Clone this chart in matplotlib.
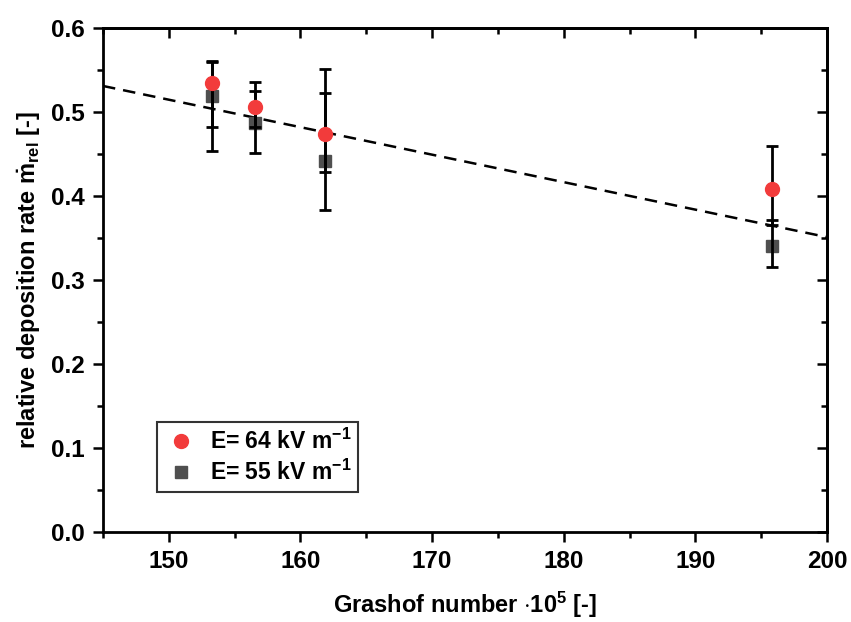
import matplotlib
matplotlib.use('Agg')
import matplotlib.pyplot as plt
import numpy as np
from matplotlib.ticker import MultipleLocator

plt.rcParams['font.family'] = ['Liberation Sans', 'DejaVu Sans']
plt.rcParams['font.weight'] = 'bold'
plt.rcParams['axes.labelweight'] = 'bold'
plt.rcParams['mathtext.fontset'] = 'custom'
plt.rcParams['mathtext.rm'] = 'Liberation Sans:bold'
plt.rcParams['mathtext.bf'] = 'Liberation Sans:bold'
plt.rcParams['mathtext.it'] = 'Liberation Sans:bold'
plt.rcParams['mathtext.default'] = 'rm'

# Grashof number (x 1e5)
gr = np.array([153.3, 156.55, 161.9, 195.8])

# E = 64 kV/m
m64 = np.array([0.535, 0.506, 0.474, 0.408])
m64_hi = np.array([0.561, 0.536, 0.523, 0.459])
m64_lo = np.array([0.482, 0.482, 0.429, 0.365])

# E = 55 kV/m
m55 = np.array([0.519, 0.487, 0.442, 0.340])
m55_hi = np.array([0.559, 0.525, 0.551, 0.372])
m55_lo = np.array([0.453, 0.451, 0.383, 0.315])

# linear trend line
fit_x = np.array([145, 200])
fit_y = np.array([0.531, 0.351])

red = '#F23B3B'
grey = '#4F4F4F'

fig = plt.figure(figsize=(8.51, 6.22), dpi=100)
ax = fig.add_axes([0.121, 0.1447, 0.851, 0.8103])

ax.plot(fit_x, fit_y, color='black', lw=1.8, ls=(0, (5, 3.2)), zorder=2)

ax.plot(gr, m55, 's', color=grey, ms=8, zorder=3,
        label=r'E= 55 kV m$^{-1}$')
ax.errorbar(gr, m55, yerr=[m55 - m55_lo, m55_hi - m55], fmt='none',
            ecolor='black', elinewidth=2, capsize=4.5, capthick=2, zorder=4)
ax.errorbar(gr, m64, yerr=[m64 - m64_lo, m64_hi - m64], fmt='none',
            ecolor='black', elinewidth=2, capsize=4.5, capthick=2, zorder=4)
ax.plot(gr, m64, 'o', color=red, ms=10, zorder=5,
        label=r'E= 64 kV m$^{-1}$')

ax.set_xlim(145, 200)
ax.set_ylim(0, 0.6)
ax.xaxis.set_major_locator(MultipleLocator(10))
ax.xaxis.set_minor_locator(MultipleLocator(5))
ax.yaxis.set_major_locator(MultipleLocator(0.1))
ax.yaxis.set_minor_locator(MultipleLocator(0.05))
ax.yaxis.set_major_formatter(matplotlib.ticker.FormatStrFormatter('%.1f'))

for s in ax.spines.values():
    s.set_linewidth(2)
ax.tick_params(which='both', direction='out', width=1.8, labelsize=17.5, pad=6)
ax.tick_params(which='major', length=7)
ax.tick_params(which='minor', length=4)
# mirrored ticks on top and right point inwards
axt = ax.secondary_xaxis('top')
axt.xaxis.set_major_locator(MultipleLocator(10))
axt.xaxis.set_minor_locator(MultipleLocator(5))
axt.tick_params(which='both', direction='in', width=1.8, labeltop=False)
axt.tick_params(which='major', length=7)
axt.tick_params(which='minor', length=4)
axr = ax.secondary_yaxis('right')
axr.yaxis.set_major_locator(MultipleLocator(0.1))
axr.yaxis.set_minor_locator(MultipleLocator(0.05))
axr.tick_params(which='both', direction='in', width=1.8, labelright=False)
axr.tick_params(which='major', length=7)
axr.tick_params(which='minor', length=4)
for sec in (axt, axr):
    for s in sec.spines.values():
        s.set_linewidth(2)

ax.set_xlabel(r'Grashof number $\cdot$10$^{5}$ [-]', fontsize=17, labelpad=12)
ax.set_ylabel(r'relative deposition rate $\dot{m}_{rel}$ [-]', fontsize=17, labelpad=6)

h, l = ax.get_legend_handles_labels()
leg = ax.legend(h[::-1], l[::-1], loc='lower left', bbox_to_anchor=(0.075, 0.079),
                borderaxespad=0, fontsize=16.5, frameon=True, fancybox=False,
                edgecolor='black', handletextpad=0.5, borderpad=0.3,
                labelspacing=0.25, handlelength=1.5)
leg.get_frame().set_linewidth(1.5)

fig.savefig('out.png', dpi=100)
